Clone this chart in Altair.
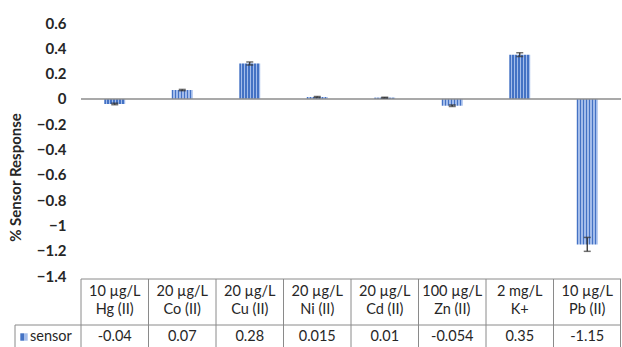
import altair as alt
import pandas as pd

conc = ["10 µg/L", "20 µg/L", "20 µg/L", "20 µg/L", "20 µg/L", "100 µg/L", "2 mg/L", "10 µg/L"]
ion = ["Hg (II)", "Co (II)", "Cu (II)", "Ni (II)", "Cd (II)", "Zn (II)", "K+", "Pb (II)"]
values = [-0.04, 0.07, 0.28, 0.015, 0.01, -0.054, 0.35, -1.15]
errors = [0.006, 0.005, 0.012, 0.004, 0.003, 0.006, 0.015, 0.055]
y_ticks = [0.6, 0.4, 0.2, 0, -0.2, -0.4, -0.6, -0.8, -1, -1.2, -1.4]
series_name = "sensor"

keys = [f"{c} {i}" for c, i in zip(conc, ion)]
df = pd.DataFrame({
    "key": keys,
    "conc": conc,
    "ion": ion,
    "value": values,
    "lo": [v - e for v, e in zip(values, errors)],
    "hi": [v + e for v, e in zip(values, errors)],
    "label": [str(v) for v in values],
})

FONT = "Lato"
TXT = "#262626"
GRID = "#8a8a8a"
W, H = 540, 253
FS = 14.5

xs = alt.X("key:N", sort=keys, axis=None,
           scale=alt.Scale(paddingInner=0, paddingOuter=0))
yscale = alt.Scale(domain=[-1.4, 0.6], nice=False, zero=False)
yaxis = alt.Axis(values=y_ticks, format=".1~f", domain=False, ticks=False, grid=False,
                 labelOverlap=False,
                 labelFont=FONT, labelFontSize=15, labelFontWeight="bold",
                 labelColor=TXT, labelPadding=15,
                 title="% Sensor Response", titleFont=FONT, titleFontSize=15,
                 titleFontWeight="bold", titleColor=TXT, titleAngle=-90,
                 titleX=-66, titleY=154, titleAlign="center",
                 titleBaseline="middle")

# striped fill
dark, light = "#4472C4", "#A3BCEA"
stops = []
n = 7
for k in range(n):
    a = k / n
    b = (k + 0.55) / n
    c = (k + 1) / n
    stops += [alt.GradientStop(color=dark, offset=a), alt.GradientStop(color=dark, offset=b),
              alt.GradientStop(color=light, offset=b), alt.GradientStop(color=light, offset=c)]
grad = alt.LinearGradient(gradient="linear", stops=stops, x1=0, x2=1, y1=0, y2=0)

base = alt.Chart(df)

bars = base.mark_bar(color=grad, width=alt.RelativeBandSize(0.31)).encode(
    x=xs, y=alt.Y("value:Q", scale=yscale, axis=yaxis))

zero = alt.Chart(pd.DataFrame({"z": [0]})).mark_rule(color="#8c8c8c", strokeWidth=1.5).encode(
    y=alt.Y("z:Q", scale=yscale, axis=yaxis), x=alt.value(0), x2=alt.value(W))

whisk = base.mark_rule(color="#333333", strokeWidth=1.3).encode(
    x=xs, y=alt.Y("lo:Q", scale=yscale, axis=yaxis), y2="hi:Q")
cap_lo = base.mark_tick(color="#333333", thickness=1.5, size=7, orient="horizontal").encode(
    x=xs, y=alt.Y("lo:Q", scale=yscale, axis=yaxis))
cap_hi = base.mark_tick(color="#333333", thickness=1.5, size=7, orient="horizontal").encode(
    x=xs, y=alt.Y("hi:Q", scale=yscale, axis=yaxis))

# data table lines
TOP, SEP, BOT = 256, 302, 335
one = alt.Chart(pd.DataFrame({"a": [0]}))


def hline(y, x0, x1):
    return one.mark_rule(color=GRID, strokeWidth=1).encode(
        y=alt.value(y), x=alt.value(x0), x2=alt.value(x1))


def vline(x, y0, y1):
    return one.mark_rule(color=GRID, strokeWidth=1).encode(
        x=alt.value(x), y=alt.value(y0), y2=alt.value(y1))


vlines = base.mark_rule(color=GRID, strokeWidth=1).encode(
    x=alt.X("key:N", sort=keys, axis=None, bandPosition=0,
            scale=alt.Scale(paddingInner=0, paddingOuter=0)),
    y=alt.value(TOP), y2=alt.value(BOT))

t1 = base.mark_text(font=FONT, fontSize=FS, color=TXT, baseline="middle").encode(
    x=xs, y=alt.value(269), text="conc:N")
t2 = base.mark_text(font=FONT, fontSize=FS, color=TXT, baseline="middle").encode(
    x=xs, y=alt.value(287), text="ion:N")
t3 = base.mark_text(font=FONT, fontSize=FS, color=TXT, baseline="middle").encode(
    x=xs, y=alt.value(314), text="label:N")

leg = alt.Chart(pd.DataFrame({"name": [series_name]}))
leg_key = leg.mark_square(size=55, color=grad, opacity=1).encode(
    x=alt.value(-57), y=alt.value(314))
leg_txt = leg.mark_text(font=FONT, fontSize=FS, color=TXT, align="left", baseline="middle").encode(
    x=alt.value(-51), y=alt.value(314), text="name:N")

chart = alt.layer(bars, zero, whisk, cap_lo, cap_hi,
                  hline(TOP, 0, W), hline(SEP, -66, W), vline(W - 0.5, TOP, BOT),
                  vline(-66, SEP, BOT), vlines, t1, t2, t3,
                  leg_key, leg_txt).properties(
    width=W, height=H,
    autosize=alt.AutoSizeParams(type="none"),
    padding={"left": 81, "top": 23, "right": 1, "bottom": 71},
    background="white",
).configure_view(stroke=None)

chart.save("out.html", embed_options={"renderer": "svg", "actions": False})
